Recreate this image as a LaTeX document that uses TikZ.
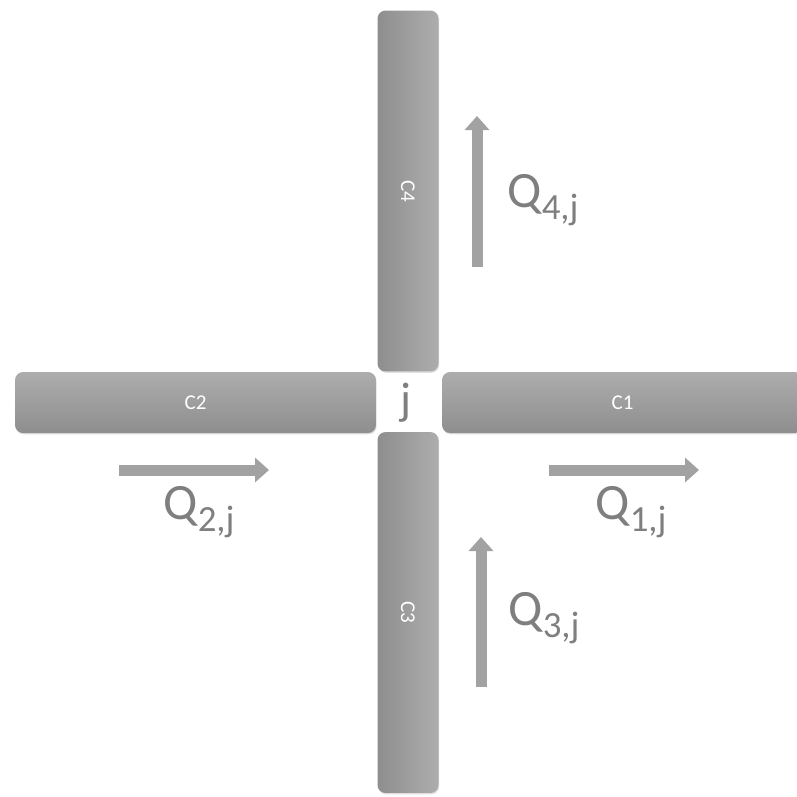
\documentclass[tikz,border=0pt]{standalone}
\usepackage{fontspec}
\setmainfont{Carlito}
\usetikzlibrary{arrows.meta, shadows}
\definecolor{barlight}{HTML}{ADADAD}
\definecolor{bardark}{HTML}{8E8E8E}
\definecolor{flowgray}{HTML}{A2A2A2}
\definecolor{labgray}{HTML}{7F7F7F}
\tikzset{
  bar/.style={rectangle, rounded corners=0.16cm,
    minimum width=7.22cm, minimum height=1.22cm,
    top color=barlight, bottom color=bardark, draw=none,
    drop shadow={shadow xshift=0.4pt, shadow yshift=-0.8pt, opacity=0.25},
    text=white, font=\fontsize{12}{13}\selectfont},
  vbar/.style={bar, minimum width=1.22cm, minimum height=7.22cm,
    left color=bardark, right color=barlight},
  flow/.style={-{Triangle[width=0.48cm, length=0.28cm]},
    draw=flowgray, line width=0.22cm},
  flabel/.style={text=labgray, font=\fontsize{29}{30}\selectfont, inner sep=0pt},
  jlabel/.style={text=labgray, font=\fontsize{26}{28}\selectfont, inner sep=0pt}
}
\newcommand{\flowlab}[1]{Q\raisebox{-6.5pt}{\fontsize{21}{22}\selectfont #1}}

\begin{document}
\begin{tikzpicture}[x=0.02cm, y=-0.02cm]
\useasboundingbox (0,0) rectangle (797,796);

%% Roads
\node[vbar] (c4) at (408, 191)   {\rotatebox{-90}{C4}};
\node[vbar] (c3) at (408, 612.5) {\rotatebox{-90}{C3}};
\node[bar]  (c2) at (195.5, 402.5) {C2};
\node[bar]  (c1) at (622.5, 402.5) {C1};

%% Junction
\node[jlabel] (j) at (406, 403) {j};

%% Flow arrows
\coordinate (q4s) at (477, 267);
\coordinate (q4e) at (477, 116);
\coordinate (q3s) at (481, 687);
\coordinate (q3e) at (481, 537);
\coordinate (q2s) at (119, 470);
\coordinate (q2e) at (269, 470);
\coordinate (q1s) at (549, 470);
\coordinate (q1e) at (699, 470);
\draw[flow] (q4s) -- (q4e);
\draw[flow] (q3s) -- (q3e);
\draw[flow] (q2s) -- (q2e);
\draw[flow] (q1s) -- (q1e);

%% Flow labels
\node[flabel] (l4) at (543, 200) {\flowlab{4,j}};
\node[flabel] (l3) at (544, 618) {\flowlab{3,j}};
\node[flabel] (l2) at (199, 512) {\flowlab{2,j}};
\node[flabel] (l1) at (631, 512) {\flowlab{1,j}};

\end{tikzpicture}
\end{document}
